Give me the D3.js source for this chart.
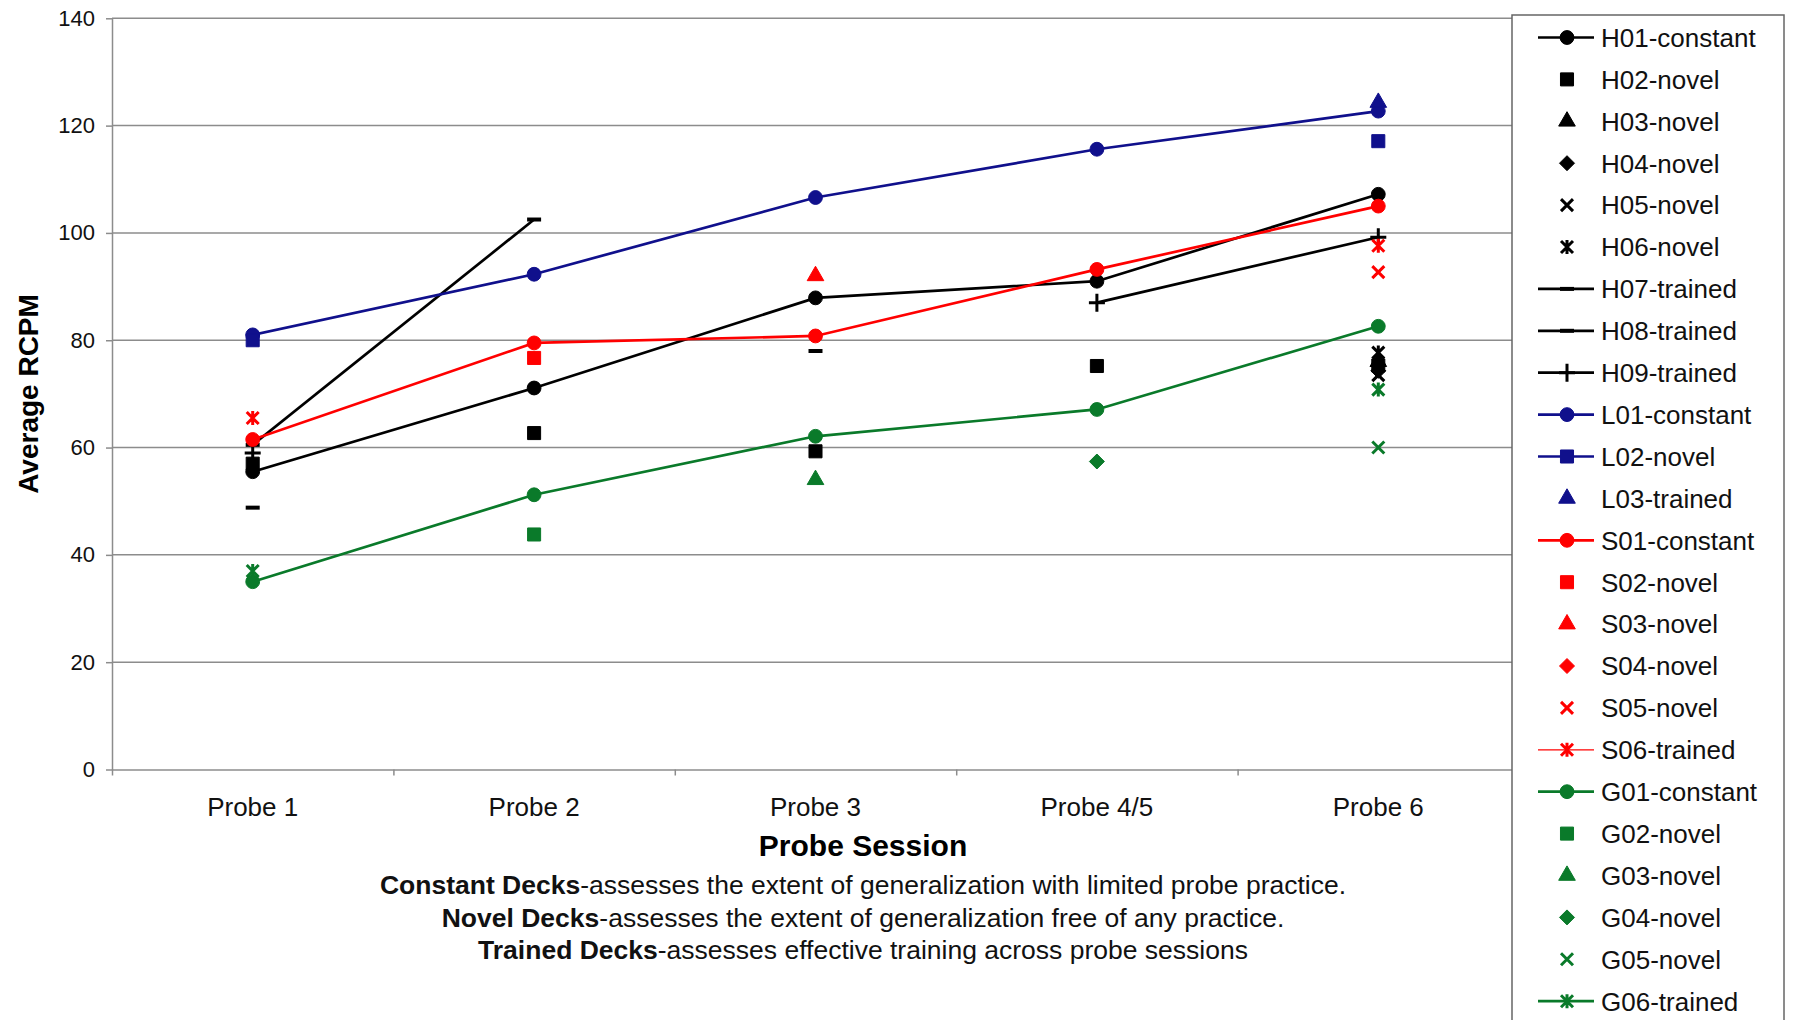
<!DOCTYPE html>
<html>
<head>
<meta charset="utf-8">
<script src="https://cdn.jsdelivr.net/npm/d3@7"></script>
<style>
  body { margin: 0; background: #fff; }
  svg { display: block; font-family: "Liberation Sans", Arial, sans-serif; }
</style>
</head>
<body>
<svg id="chart" width="1793" height="1020"></svg>
<script>
// probe sessions on the x axis
const probes = ['Probe 1', 'Probe 2', 'Probe 3', 'Probe 4/5', 'Probe 6']
const yTicks = [0, 20, 40, 60, 80, 100, 120, 140]

// average RCPM per deck, null where the deck was not probed
const H01 = [55.5, 71.1, 87.9, 91.0, 107.2]
const H02 = [57.0, 62.7, 59.3, 75.2, 75.3]
const H03 = [null, null, null, null, 76.0]
const H04 = [null, null, null, null, 74.3]
const H05 = [null, null, null, null, 73.5]
const H06 = [null, null, null, null, 77.7]
const H07 = [48.8, null, 78.0, null, null]
const H08 = [60.5, 102.5, null, null, null]
const H09 = [59.0, null, null, 87.0, 99.2]
const L01 = [81.0, 92.3, 106.6, 115.6, 122.7]
const L02 = [80.0, null, null, null, 117.1]
const L03 = [null, null, null, null, 124.3]
const S01 = [61.5, 79.5, 80.8, 93.2, 105.0]
const S02 = [null, 76.7, null, null, null]
const S03 = [null, null, 92.0, null, null]
const S04 = [null, null, null, null, null]
const S05 = [null, null, null, null, 92.7]
const S06 = [65.5, null, null, null, 97.6]
const G01 = [35.0, 51.2, 62.1, 67.1, 82.6]
const G02 = [null, 43.8, null, null, null]
const G03 = [null, null, 54.0, null, null]
const G04 = [null, null, null, 57.4, null]
const G05 = [null, null, null, null, 60.0]
const G06 = [37.0, null, null, null, 70.8]

const notes = [
  ['Constant Decks', '-assesses the extent of generalization with limited probe practice.'],
  ['Novel Decks', '-assesses the extent of generalization free of any practice.'],
  ['Trained Decks', '-assesses effective training across probe sessions']
]

const BLACK = '#000', BLUE = '#10108c', RED = '#ff0000', GREEN = '#0a7a2a'

const series = [
  { name: 'H01-constant', values: H01, color: BLACK, marker: 'circle', line: true },
  { name: 'H02-novel', values: H02, color: BLACK, marker: 'square' },
  { name: 'H03-novel', values: H03, color: BLACK, marker: 'triangle' },
  { name: 'H04-novel', values: H04, color: BLACK, marker: 'diamond' },
  { name: 'H05-novel', values: H05, color: BLACK, marker: 'x' },
  { name: 'H06-novel', values: H06, color: BLACK, marker: 'star' },
  { name: 'H07-trained', values: H07, color: BLACK, marker: 'dash', line: true },
  { name: 'H08-trained', values: H08, color: BLACK, marker: 'dash', line: true },
  { name: 'H09-trained', values: H09, color: BLACK, marker: 'plus', line: true },
  { name: 'L01-constant', values: L01, color: BLUE, marker: 'circle', line: true },
  { name: 'L02-novel', values: L02, color: BLUE, marker: 'square', line: true },
  { name: 'L03-trained', values: L03, color: BLUE, marker: 'triangle' },
  { name: 'S01-constant', values: S01, color: RED, marker: 'circle', line: true },
  { name: 'S02-novel', values: S02, color: RED, marker: 'square' },
  { name: 'S03-novel', values: S03, color: RED, marker: 'triangle' },
  { name: 'S04-novel', values: S04, color: RED, marker: 'diamond' },
  { name: 'S05-novel', values: S05, color: RED, marker: 'x' },
  { name: 'S06-trained', values: S06, color: RED, marker: 'star', line: true, thin: true },
  { name: 'G01-constant', values: G01, color: GREEN, marker: 'circle', line: true },
  { name: 'G02-novel', values: G02, color: GREEN, marker: 'square' },
  { name: 'G03-novel', values: G03, color: GREEN, marker: 'triangle' },
  { name: 'G04-novel', values: G04, color: GREEN, marker: 'diamond' },
  { name: 'G05-novel', values: G05, color: GREEN, marker: 'x' },
  { name: 'G06-trained', values: G06, color: GREEN, marker: 'star', line: true }
]

const plot = { left: 112, right: 1519, top: 18.3, bottom: 769.5 }
const svg = d3.select('#chart')

const x = d3.scaleBand().domain(probes).range([plot.left, plot.right])
const xEdge = d3.scaleLinear().domain([0, probes.length]).range([plot.left, plot.right])
const y = d3.scaleLinear().domain([0, 140]).range([plot.bottom, plot.top])

// gridlines
svg.append('g')
  .selectAll('line').data(yTicks.slice(1)).join('line')
  .attr('x1', plot.left).attr('x2', plot.right)
  .attr('y1', d => y(d)).attr('y2', d => y(d))
  .attr('stroke', '#8c8c8c').attr('stroke-width', 1.5)

// y axis
const yAxis = svg.append('g')
  .attr('transform', `translate(${plot.left},0)`)
  .call(d3.axisLeft(y).tickValues(yTicks).tickSize(6).tickPadding(11).tickSizeOuter(0))
yAxis.select('.domain').attr('stroke', '#8c8c8c').attr('stroke-width', 1.5)
yAxis.selectAll('.tick line').attr('stroke', '#8c8c8c').attr('stroke-width', 1.5)
yAxis.selectAll('.tick text').attr('font-size', 22).attr('fill', '#111')
  .attr('font-family', '"Liberation Sans", Arial, sans-serif')

// x axis (ticks between categories)
const xAxis = svg.append('g')
  .attr('transform', `translate(0,${plot.bottom})`)
  .call(d3.axisBottom(xEdge).tickValues(d3.range(probes.length + 1)).tickFormat('').tickSize(6).tickSizeOuter(0))
xAxis.select('.domain').attr('stroke', '#8c8c8c').attr('stroke-width', 1.5)
xAxis.selectAll('.tick line').attr('stroke', '#8c8c8c').attr('stroke-width', 1.5)

svg.append('g').selectAll('text').data(probes).join('text')
  .attr('x', d => x(d) + x.bandwidth() / 2)
  .attr('y', 816)
  .attr('text-anchor', 'middle')
  .attr('font-size', 26)
  .attr('fill', '#111')
  .text(d => d)

// axis titles
svg.append('text')
  .attr('transform', 'translate(38,394) rotate(-90)')
  .attr('text-anchor', 'middle')
  .attr('font-size', 28).attr('font-weight', 'bold')
  .text('Average RCPM')

svg.append('text')
  .attr('x', 863).attr('y', 856)
  .attr('text-anchor', 'middle')
  .attr('font-size', 30).attr('font-weight', 'bold')
  .text('Probe Session')

// notes under the chart
svg.append('g').selectAll('text').data(notes).join('text')
  .attr('x', 863).attr('y', (d, i) => 894 + i * 32.5)
  .attr('text-anchor', 'middle')
  .attr('font-size', 26.5)
  .attr('fill', '#111')
  .each(function (d) {
    const t = d3.select(this)
    t.append('tspan').attr('font-weight', 'bold').text(d[0])
    t.append('tspan').text(d[1])
  })

// marker shapes
function markerPath (type) {
  const p = d3.path()
  if (type === 'circle') return d3.symbol(d3.symbolCircle, 150)()
  if (type === 'square') return d3.symbol(d3.symbolSquare, 170)()
  if (type === 'triangle') return d3.symbol(d3.symbolTriangle, 120)()
  if (type === 'diamond') { p.moveTo(0, -7.5); p.lineTo(7.5, 0); p.lineTo(0, 7.5); p.lineTo(-7.5, 0); p.closePath(); return p.toString() }
  if (type === 'x') { p.moveTo(-6, -6); p.lineTo(6, 6); p.moveTo(-6, 6); p.lineTo(6, -6); return p.toString() }
  if (type === 'star') { p.moveTo(-6, -6); p.lineTo(6, 6); p.moveTo(-6, 6); p.lineTo(6, -6); p.moveTo(0, -7); p.lineTo(0, 7); return p.toString() }
  if (type === 'plus') { p.moveTo(-8, 0); p.lineTo(8, 0); p.moveTo(0, -9); p.lineTo(0, 9); return p.toString() }
  if (type === 'dash') { p.rect(-7, -2, 14, 4); return p.toString() }
}
const strokeMarkers = new Set(['x', 'star', 'plus'])

function styleMarker (sel, s) {
  const stroked = strokeMarkers.has(s.marker)
  sel.attr('d', markerPath(s.marker))
    .attr('fill', stroked ? 'none' : s.color)
    .attr('stroke', s.color)
    .attr('stroke-width', stroked ? 3 : (s.marker === 'dash' ? 0 : 1))
}

const line = d3.line()
  .defined(d => d.v != null)
  .x(d => x(d.probe) + x.bandwidth() / 2)
  .y(d => y(d.v))

series.forEach(s => {
  const pts = s.values.map((v, i) => ({ probe: probes[i], v }))
  const g = svg.append('g')
  if (s.line) {
    g.append('path').datum(pts)
      .attr('d', line)
      .attr('fill', 'none')
      .attr('stroke', s.color)
      .attr('stroke-width', s.thin ? 1.2 : 2.7)
  }
  g.selectAll('path.mk').data(pts.filter(d => d.v != null)).join('path')
    .attr('class', 'mk')
    .attr('transform', d => `translate(${x(d.probe) + x.bandwidth() / 2},${y(d.v)})`)
    .call(sel => styleMarker(sel, s))
})

// legend
const legend = svg.append('g')
legend.append('rect')
  .attr('x', 1512).attr('y', 15).attr('width', 272).attr('height', 1030)
  .attr('fill', '#fff').attr('stroke', '#666').attr('stroke-width', 1.5)

const rowY = d3.scaleLinear().domain([0, 1]).range([37.5, 79.4])
const items = legend.selectAll('g.item').data(series).join('g')
  .attr('class', 'item')
  .attr('transform', (d, i) => `translate(1567,${rowY(i)})`)
items.filter(d => d.line).append('line')
  .attr('x1', -29).attr('x2', 27)
  .attr('stroke', d => d.color)
  .attr('stroke-width', d => d.thin ? 1.2 : 2.7)
items.append('path').each(function (d) { d3.select(this).call(sel => styleMarker(sel, d)) })
items.append('text')
  .attr('x', 34).attr('dy', '0.36em')
  .attr('font-size', 26)
  .attr('fill', '#111')
  .text(d => d.name)
</script>
</body>
</html>
